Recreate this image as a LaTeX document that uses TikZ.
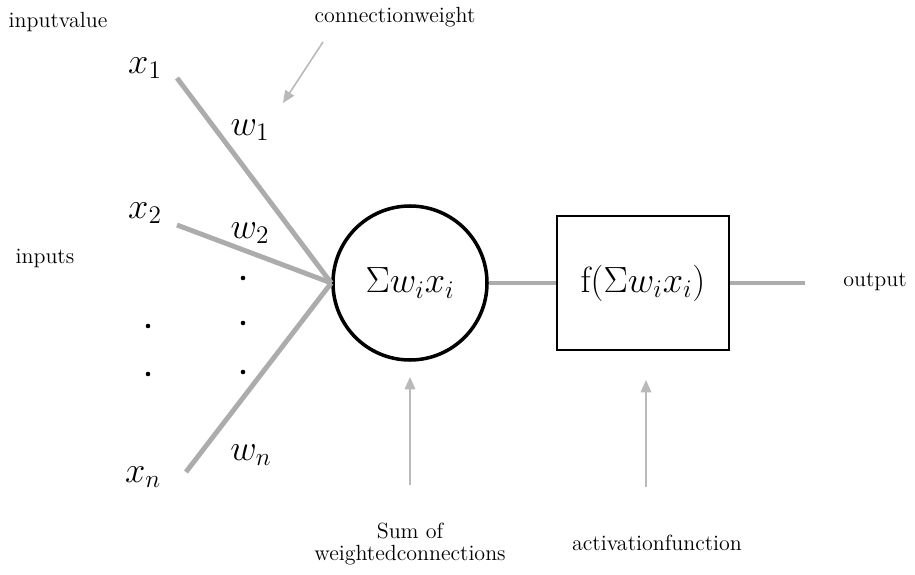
\documentclass[tikz,border=0pt]{standalone}
\usepackage{tikz}
\usetikzlibrary{positioning, arrows.meta}

\begin{document}
\begin{tikzpicture}[
    every node/.style={font=\rmfamily\fontsize{12.5}{14.5}\selectfont},
    mathlbl/.style={font=\fontsize{21}{23}\selectfont, inner sep=1pt},
    txt/.style={align=center, inner sep=1pt},
    wire/.style={line width=2.8pt, draw=gray!65},
    note/.style={-{Triangle[length=7pt, width=6pt]}, line width=0.9pt, draw=gray!55},
    unit/.style={circle, draw=black, line width=2pt, minimum size=3.08cm, inner sep=0pt},
    act/.style={rectangle, draw=black, line width=1.4pt, minimum width=3.44cm, minimum height=2.68cm, inner sep=0pt},
    dot/.style={circle, fill=black, inner sep=0pt, minimum size=2.6pt},
]
\useasboundingbox (0,0) rectangle (18.3,11.48);

% neuron: summing unit and activation box
\node[unit] (sum) at (8.2, 5.82) {};
\node[mathlbl] (sumtxt) at (sum.center) {$\Sigma w_i x_i$};
\node[act] (fbox) at (12.86, 5.82) {};
\node[mathlbl] (ftxt) at (fbox.center) {$\mathrm{f}(\Sigma w_i x_i)$};

% input ends of the weighted connections
\coordinate (in1) at (3.54, 9.92);
\coordinate (in2) at (3.54, 6.98);
\coordinate (inn) at (3.72, 2.04);
\coordinate (outend) at (16.1, 5.82);

% input and weight labels
\node[mathlbl] (x1) at (2.9, 10.12) {$x_1$};
\node[mathlbl] (x2) at (2.9, 7.22) {$x_2$};
\node[mathlbl] (xn) at (2.86, 1.94) {$x_n$};
\node[mathlbl] (w1) at (5.0, 8.88) {$w_1$};
\node[mathlbl] (w2) at (5.0, 6.82) {$w_2$};
\node[mathlbl] (wn) at (5.02, 2.38) {$w_n$};

% ellipsis dots
\node[dot] (dl1) at (2.96, 4.96) {};
\node[dot] (dl2) at (2.96, 4.0) {};
\node[dot] (dr1) at (4.86, 5.92) {};
\node[dot] (dr2) at (4.86, 5.02) {};
\node[dot] (dr3) at (4.86, 4.04) {};

% connections
\draw[wire] (in1) -- (sum.west);
\draw[wire] (in2) -- (sum.west);
\draw[wire] (inn) -- (sum.west);
\draw[wire] (sum.east) -- (fbox.west);
\draw[wire] (fbox.east) -- (outend);

% descriptive labels
\node[txt] (invalue) at (1.16, 11.04) {inputvalue};
\node[txt] (inputs) at (0.9, 6.32) {inputs};
\node[txt] (cweight) at (7.9, 11.14) {connectionweight};
\node[txt] (output) at (17.5, 5.84) {output};
\node[txt] (sumlbl) at (8.2, 0.6) {Sum of\\[-2pt]weightedconnections};
\node[txt] (actlbl) at (13.14, 0.62) {activationfunction};

% pointer arrows
\coordinate (cwtail) at (6.46, 10.64);
\coordinate (cwtip) at (5.66, 9.42);
\coordinate (sumtail) at (8.2, 1.78);
\coordinate (sumtip) at (8.2, 3.94);
\coordinate (acttail) at (12.92, 1.74);
\coordinate (acttip) at (12.92, 3.88);
\draw[note] (cwtail) -- (cwtip);
\draw[note] (sumtail) -- (sumtip);
\draw[note] (acttail) -- (acttip);

\end{tikzpicture}
\end{document}
